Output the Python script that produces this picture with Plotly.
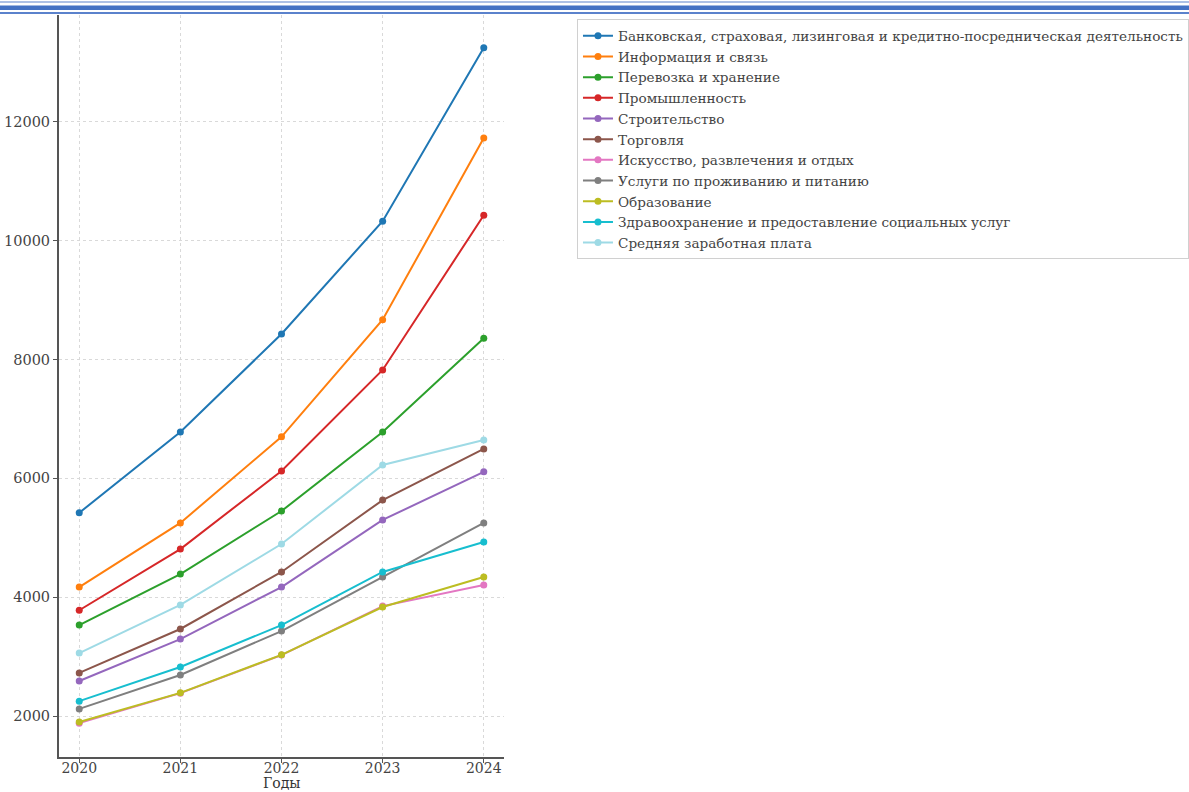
import plotly.graph_objects as go

years = [2020, 2021, 2022, 2023, 2024]

series_names = [
    "Банковская, страховая, лизинговая и кредитно-посредническая деятельность",
    "Информация и связь",
    "Перевозка и хранение",
    "Промышленность",
    "Строительство",
    "Торговля",
    "Искусство, развлечения и отдых",
    "Услуги по проживанию и питанию",
    "Образование",
    "Здравоохранение и предоставление социальных услуг",
    "Средняя заработная плата",
]

banking = [5420, 6780, 8430, 10330, 13250]
info = [4170, 5250, 6700, 8670, 11730]
transport = [3530, 4390, 5450, 6780, 8360]
industry = [3780, 4810, 6125, 7825, 10430]
construction = [2590, 3295, 4170, 5300, 6110]
trade = [2725, 3465, 4425, 5635, 6495]
arts = [1880, 2385, 3025, 3850, 4205]
hospitality = [2120, 2690, 3430, 4340, 5250]
education = [1900, 2390, 3030, 3835, 4340]
health = [2250, 2825, 3530, 4425, 4930]
average = [3060, 3870, 4895, 6225, 6645]

series_values = [banking, info, transport, industry, construction, trade,
                 arts, hospitality, education, health, average]

colors = ["#1f77b4", "#ff7f0e", "#2ca02c", "#d62728", "#9467bd", "#8c564b",
          "#e377c2", "#7f7f7f", "#bcbd22", "#17becf", "#9edae5"]

y_ticks = [2000, 4000, 6000, 8000, 10000, 12000]

FONT = "DejaVu Serif"
TXT = "#444444"

fig = go.Figure()
for name, vals, col in zip(series_names, series_values, colors):
    fig.add_trace(go.Scatter(
        x=years, y=vals, name=name, mode="lines+markers",
        line=dict(color=col, width=2),
        marker=dict(color=col, size=7),
    ))

fig.update_layout(
    width=1189, height=792,
    margin=dict(l=59, r=685, t=15, b=35, autoexpand=False),
    paper_bgcolor="white", plot_bgcolor="white",
    font=dict(family=FONT, color=TXT, size=13),
    showlegend=True,
    legend=dict(
        x=1.164, y=0.994, xanchor="left", yanchor="top",
        bgcolor="white", bordercolor="#d0d0d0", borderwidth=1,
        font=dict(family=FONT, size=13.6, color=TXT),
        tracegroupgap=0, itemwidth=30,
    ),
)

fig.update_xaxes(
    range=[2019.8, 2024.2], tickmode="array", tickvals=years,
    ticktext=[str(y) for y in years],
    showgrid=True, gridcolor="#d9d9d9", griddash="dot", gridwidth=1,
    showline=True, linecolor="#555555", linewidth=2,
    ticks="outside", ticklen=4, tickcolor="#555555",
    ticklabelstandoff=-7,
    tickfont=dict(family=FONT, size=14, color=TXT),
    zeroline=False,
)
fig.update_yaxes(
    range=[1310, 13800], tickmode="array", tickvals=y_ticks,
    ticktext=[str(v) for v in y_ticks],
    showgrid=True, gridcolor="#d9d9d9", griddash="dot", gridwidth=1,
    showline=True, linecolor="#555555", linewidth=2,
    ticks="outside", ticklen=4, tickcolor="#555555",
    tickfont=dict(family=FONT, size=14.5, color=TXT),
    zeroline=False,
)

# x-axis title placed as paper annotation, flush with the bottom edge
fig.add_annotation(
    text="Годы", xref="paper", yref="paper", x=0.5, y=-35/742,
    xanchor="center", yanchor="bottom", showarrow=False,
    font=dict(family=FONT, size=14, color="#333333"),
    borderpad=0,
)

# decorative double blue rule at the top of the page
for y0, y1, c in [(789.5, 790.5, "#5b82cc"), (782, 786.5, "#4472c4"), (778, 780, "#5b82cc")]:
    fig.add_shape(type="rect", xref="paper", yref="paper",
                  x0=-59/445, x1=(1189-59)/445,
                  y0=(y0-35)/742, y1=(y1-35)/742,
                  line=dict(width=0), fillcolor=c, layer="above")

fig.write_html(
    "out.html",
    config={"displayModeBar": False},
    post_script="document.body.style.margin='0';document.body.style.overflow='hidden';",
)
